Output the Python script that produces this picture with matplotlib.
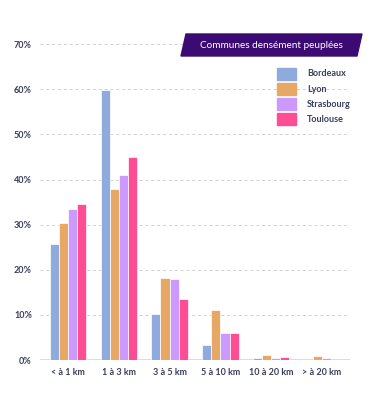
import matplotlib.pyplot as plt
import numpy as np
from matplotlib.patches import Polygon, Rectangle

categories = ["< à 1 km", "1 à 3 km", "3 à 5 km", "5 à 10 km", "10 à 20 km", "> à 20 km"]
series_names = ["Bordeaux", "Lyon", "Strasbourg", "Toulouse"]
bordeaux = [25.7, 59.9, 10.2, 3.3, 0.5, 0.0]
lyon = [30.4, 37.9, 18.2, 11.2, 1.2, 0.9]
strasbourg = [33.5, 41.1, 18.0, 6.1, 0.5, 0.5]
toulouse = [34.5, 44.9, 13.5, 6.1, 0.6, 0.0]
colors = ["#8faadc", "#e8a865", "#cc99ff", "#ff4d94"]
yticks = [0, 10, 20, 30, 40, 50, 60, 70]
title = "Communes densément peuplées"

plt.rcParams['font.family'] = ['Lato', 'DejaVu Sans']
text_color = "#3a3f5c"

fig = plt.figure(figsize=(3.79, 4.05), dpi=100)
ax = fig.add_axes([0.106, 0.111, 0.817, 0.780])

x = np.arange(len(categories))
width = 0.18
all_series = [bordeaux, lyon, strasbourg, toulouse]
for i, (name, vals, col) in enumerate(zip(series_names, all_series, colors)):
    ax.bar(x + (i - 1.5) * width, vals, width, color=col, edgecolor="white",
           linewidth=0.5, label=name, zorder=3)

ax.set_ylim(0, 70)
ax.set_xlim(-0.55, len(categories) - 0.45)
ax.set_yticks(yticks)
ax.set_yticklabels([f"{t}%" for t in yticks], fontsize=6.5, color=text_color, fontweight="bold")
ax.set_xticks(x)
ax.set_xticklabels(categories, fontsize=6.5, color=text_color, fontweight="bold")
ax.tick_params(axis="x", length=0, pad=6)
ax.tick_params(axis="y", length=0, pad=6)
for t in yticks[1:]:
    ax.axhline(t, color="#d0d0d0", linestyle=(0, (3, 3)), linewidth=0.7, zorder=1)
ax.axhline(0, color="#d5d5d5", linewidth=1.2, zorder=2)
for s in ax.spines.values():
    s.set_visible(False)

# banner title
banner = Polygon([[181 / 379, 1 - 56 / 405], [186 / 379, 1 - 34 / 405],
                  [362 / 379, 1 - 34 / 405], [357 / 379, 1 - 56 / 405]],
                 closed=True, transform=fig.transFigure, color="#3b0a73", zorder=5)
fig.patches.append(banner)
fig.text(271 / 379, 1 - 45.5 / 405, title, color="white", fontsize=7.2,
         ha="center", va="center", zorder=6)

# legend
for i, (name, col) in enumerate(zip(series_names, colors)):
    yc = 74 + i * 15
    fig.patches.append(Rectangle((277 / 379, 1 - (yc + 6) / 405), 19 / 379, 12 / 405,
                                 transform=fig.transFigure, color=col, zorder=5))
    fig.text(307 / 379, 1 - yc / 405, name, color=text_color, fontsize=6.5,
             fontweight="bold", ha="left", va="center")

fig.savefig("out.png", dpi=100)
